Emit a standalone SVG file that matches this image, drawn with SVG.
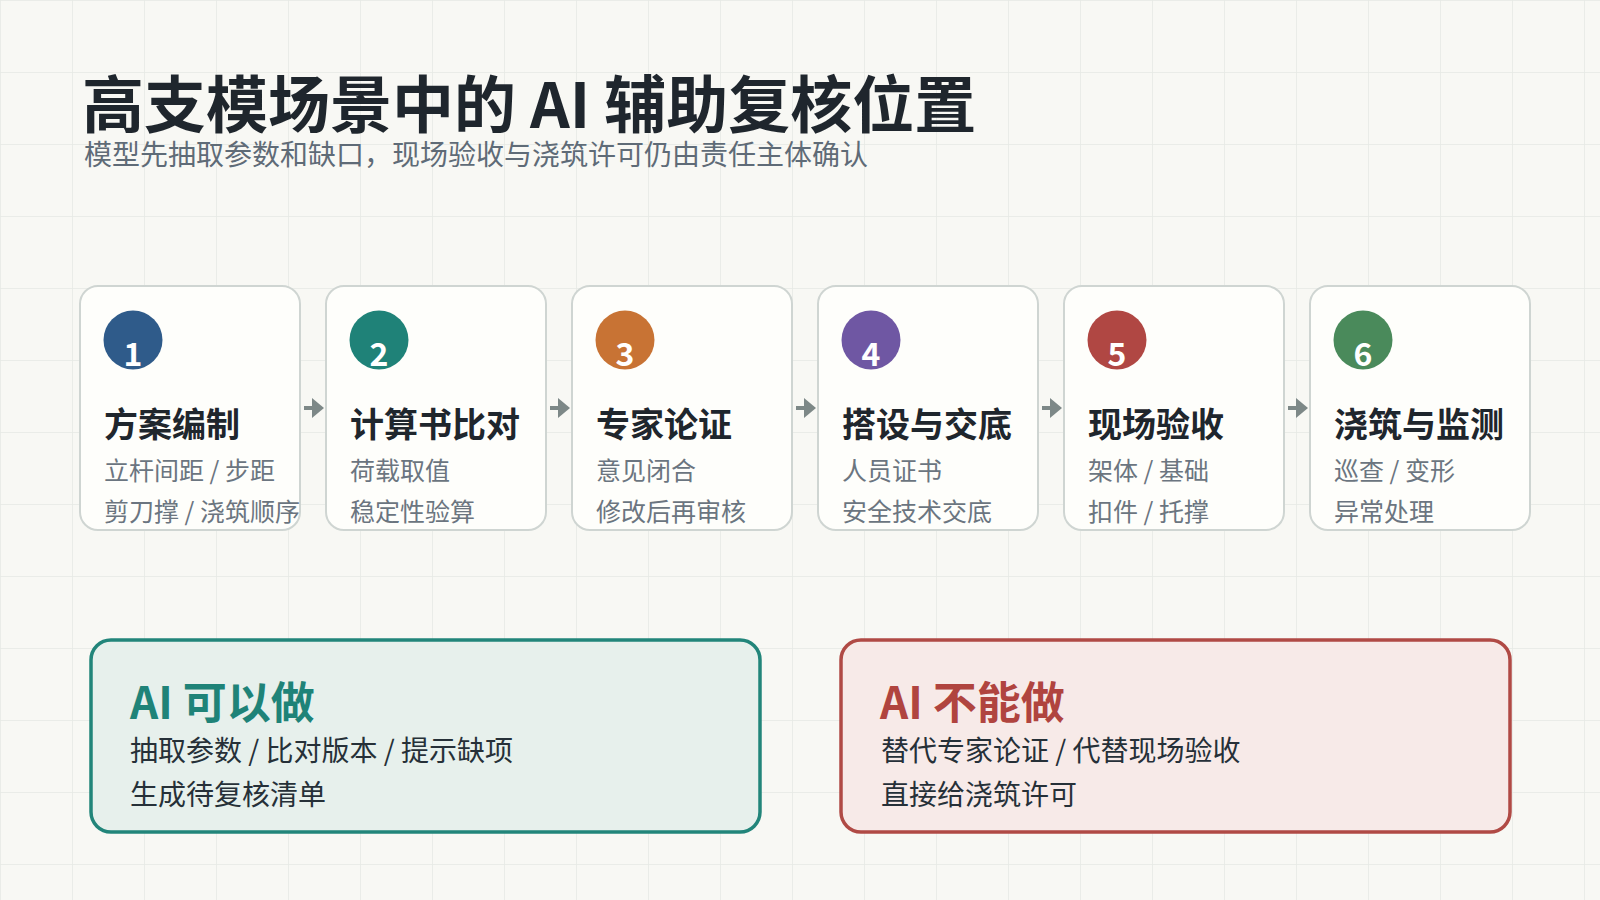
<svg xmlns="http://www.w3.org/2000/svg" width="1600" height="900" viewBox="0 0 1600 900">
  <defs>
    <pattern id="grid" width="72" height="72" patternUnits="userSpaceOnUse">
      <path d="M0,0 H72 M0,0 V72" fill="none" stroke="#e6e9e5" stroke-width="1.5"/>
    </pattern>
    <marker id="arr" viewBox="0 0 12 20" markerWidth="12" markerHeight="20" markerUnits="userSpaceOnUse" refX="1" refY="10" orient="auto">
      <path d="M0,0 L12,10 L0,20 Z" fill="#7d8887"/>
    </marker>
  </defs>
  <style>
    text { font-family: "Noto Sans CJK SC", "Noto Sans", sans-serif; }
    .title { font-size: 62px; font-weight: 700; fill: #1f262d; }
    .subtitle { font-size: 28px; fill: #5f6b77; }
    .card { fill: #fefefb; stroke: #cfd5d2; stroke-width: 2; }
    .num { font-size: 32px; font-weight: 700; fill: #ffffff; text-anchor: middle; }
    .step { font-size: 34px; font-weight: 700; fill: #1f262d; }
    .sub { font-size: 25px; fill: #6b7580; }
    .conn { stroke: #7d8887; stroke-width: 4; fill: none; marker-end: url(#arr); }
    .boxtitle { font-size: 44px; font-weight: 700; }
    .boxline { font-size: 28px; fill: #263038; }
  </style>
  <rect x="0" y="0" width="1600" height="900" fill="#f8f8f4"/>
  <rect x="0" y="0" width="1600" height="900" fill="url(#grid)"/>

  <g id="header">
    <text class="title" x="82" y="128">高支模场景中的 AI 辅助复核位置</text>
    <text class="subtitle" x="84" y="165">模型先抽取参数和缺口，现场验收与浇筑许可仍由责任主体确认</text>
  </g>

  <g id="step1">
    <rect class="card" x="80" y="286" width="220" height="244" rx="18"/>
    <circle cx="133" cy="340" r="29.5" fill="#2f5b8a"/>
    <text class="num" x="133" y="366">1</text>
    <text class="step" x="104" y="437">方案编制</text>
    <text class="sub" x="104" y="480">立杆间距 / 步距</text>
    <text class="sub" x="104" y="521">剪刀撑 / 浇筑顺序</text>
  </g>
  <g id="step2">
    <rect class="card" x="326" y="286" width="220" height="244" rx="18"/>
    <circle cx="379" cy="340" r="29.5" fill="#1f8278"/>
    <text class="num" x="379" y="366">2</text>
    <text class="step" x="350" y="437">计算书比对</text>
    <text class="sub" x="350" y="480">荷载取值</text>
    <text class="sub" x="350" y="521">稳定性验算</text>
  </g>
  <g id="step3">
    <rect class="card" x="572" y="286" width="220" height="244" rx="18"/>
    <circle cx="625" cy="340" r="29.5" fill="#c87334"/>
    <text class="num" x="625" y="366">3</text>
    <text class="step" x="596" y="437">专家论证</text>
    <text class="sub" x="596" y="480">意见闭合</text>
    <text class="sub" x="596" y="521">修改后再审核</text>
  </g>
  <g id="step4">
    <rect class="card" x="818" y="286" width="220" height="244" rx="18"/>
    <circle cx="871" cy="340" r="29.5" fill="#6f57a3"/>
    <text class="num" x="871" y="366">4</text>
    <text class="step" x="842" y="437">搭设与交底</text>
    <text class="sub" x="842" y="480">人员证书</text>
    <text class="sub" x="842" y="521">安全技术交底</text>
  </g>
  <g id="step5">
    <rect class="card" x="1064" y="286" width="220" height="244" rx="18"/>
    <circle cx="1117" cy="340" r="29.5" fill="#b04743"/>
    <text class="num" x="1117" y="366">5</text>
    <text class="step" x="1088" y="437">现场验收</text>
    <text class="sub" x="1088" y="480">架体 / 基础</text>
    <text class="sub" x="1088" y="521">扣件 / 托撑</text>
  </g>
  <g id="step6">
    <rect class="card" x="1310" y="286" width="220" height="244" rx="18"/>
    <circle cx="1363" cy="340" r="29.5" fill="#4a8a5b"/>
    <text class="num" x="1363" y="366">6</text>
    <text class="step" x="1334" y="437">浇筑与监测</text>
    <text class="sub" x="1334" y="480">巡查 / 变形</text>
    <text class="sub" x="1334" y="521">异常处理</text>
  </g>

  <g id="connectors">
    <line class="conn" x1="304" y1="408" x2="313" y2="408"/>
    <line class="conn" x1="550" y1="408" x2="559" y2="408"/>
    <line class="conn" x1="796" y1="408" x2="805" y2="408"/>
    <line class="conn" x1="1042" y1="408" x2="1051" y2="408"/>
    <line class="conn" x1="1288" y1="408" x2="1297" y2="408"/>
  </g>

  <g id="ai-can">
    <rect x="91" y="640" width="669" height="192" rx="20" fill="#e7f0ec" stroke="#22857a" stroke-width="3.5"/>
    <text class="boxtitle" x="130" y="719" fill="#1f8378">AI 可以做</text>
    <text class="boxline" x="130" y="761">抽取参数 / 比对版本 / 提示缺项</text>
    <text class="boxline" x="130" y="805">生成待复核清单</text>
  </g>
  <g id="ai-cannot">
    <rect x="841" y="640" width="669" height="192" rx="20" fill="#f7eae8" stroke="#b04a45" stroke-width="3.5"/>
    <text class="boxtitle" x="880" y="719" fill="#b0443f">AI 不能做</text>
    <text class="boxline" x="881" y="761">替代专家论证 / 代替现场验收</text>
    <text class="boxline" x="881" y="805">直接给浇筑许可</text>
  </g>
</svg>
